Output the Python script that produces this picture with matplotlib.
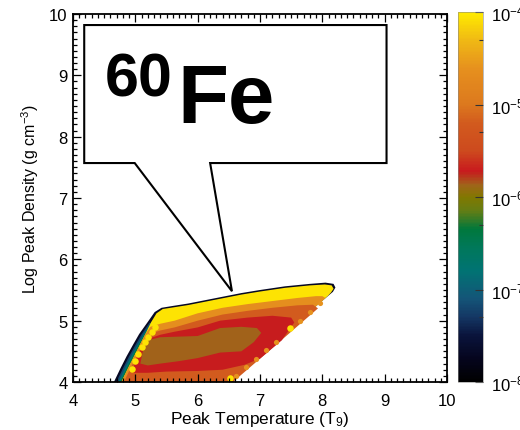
import numpy as np
import matplotlib
matplotlib.use("Agg")
import matplotlib.pyplot as plt
from matplotlib.colors import LinearSegmentedColormap, LogNorm
from matplotlib.cm import ScalarMappable
from matplotlib.ticker import FixedLocator, MultipleLocator

plt.rcParams["font.family"] = ["Liberation Sans", "DejaVu Sans"]
plt.rcParams["mathtext.fontset"] = "custom"
plt.rcParams["mathtext.rm"] = "Liberation Sans"
plt.rcParams["mathtext.it"] = "Liberation Sans:italic"
plt.rcParams["mathtext.bf"] = "Liberation Sans:bold"

# ---- colour scale: log10 mass fraction anchors ----
cmap_levels = [-8.0, -7.75, -7.5, -7.3, -7.1, -6.8, -6.55, -6.35, -6.15, -6.0,
               -5.87, -5.72, -5.5, -5.2, -5.0, -4.6, -4.3, -4.0]
cmap_colors = ["#000000", "#05051e", "#0a143c", "#143764", "#145578", "#007373",
               "#00785a", "#00783c", "#647d14", "#827800", "#a0641a", "#c8191e",
               "#cd4a1e", "#d25a1e", "#dc781e", "#e6911e", "#f0b914", "#ffeb00"]

# ---- abundance bands (Peak T9, log peak density) with their log10 values ----
rim_level = -7.7
rim = [(4.60, 3.85), (4.67, 4.03), (4.76, 4.22), (4.86, 4.42), (4.97, 4.62), (5.06, 4.78),
       (5.20, 4.98), (5.31, 5.14), (5.42, 5.21), (5.60, 5.24), (5.85, 5.28), (6.10, 5.33),
       (6.40, 5.39), (6.70, 5.45), (7.00, 5.50), (7.40, 5.56), (7.80, 5.60), (8.05, 5.62),
       (8.18, 5.60), (8.21, 5.54), (8.17, 5.47), (8.10, 5.41), (7.70, 5.06), (7.30, 4.72),
       (6.90, 4.37), (6.50, 4.03), (6.30, 3.85)]

blue_level = -7.2
blue = [(4.64, 3.85), (4.71, 4.03), (4.80, 4.22), (4.90, 4.42), (5.01, 4.62), (5.10, 4.78),
        (5.23, 4.97), (5.40, 4.80), (5.40, 3.85)]

teal_level = -6.8
teal = [(4.67, 3.85), (4.74, 4.03), (4.83, 4.22), (4.93, 4.42), (5.04, 4.62), (5.13, 4.78),
        (5.25, 4.96), (5.40, 4.80), (5.40, 3.85)]

green_level = -6.35
green = [(4.70, 3.85), (4.77, 4.03), (4.86, 4.22), (4.96, 4.42), (5.06, 4.62), (5.15, 4.78),
         (5.26, 4.96), (5.40, 4.80), (5.40, 3.85)]

yellow_level = -4.05
yellow = [(4.72, 3.85), (4.79, 4.03), (4.88, 4.22), (4.98, 4.42), (5.08, 4.62), (5.16, 4.78),
          (5.25, 4.97), (5.34, 5.12), (5.44, 5.19), (5.60, 5.215), (5.85, 5.255), (6.10, 5.305),
          (6.40, 5.365), (6.70, 5.425), (7.00, 5.475), (7.40, 5.535), (7.80, 5.575),
          (8.04, 5.59), (8.15, 5.575), (8.18, 5.52), (8.14, 5.46), (8.09, 5.405), (7.70, 5.06),
          (7.30, 4.72), (6.90, 4.37), (6.50, 4.03), (6.30, 3.85)]

orange_level = -4.65
orange = [(4.72, 3.85), (4.79, 4.03), (4.88, 4.22), (4.98, 4.42), (5.08, 4.62), (5.16, 4.78),
          (5.24, 4.90), (5.40, 4.95), (5.63, 5.00), (6.00, 5.12), (6.40, 5.21), (6.80, 5.27),
          (7.20, 5.32), (7.60, 5.37), (7.90, 5.40), (8.00, 5.40), (8.05, 5.37), (7.70, 5.06),
          (7.30, 4.72), (6.90, 4.37), (6.50, 4.03), (6.30, 3.85)]

dark_orange_level = -5.2
dark_orange = [(4.76, 3.85), (4.83, 4.03), (4.92, 4.22), (5.02, 4.42), (5.12, 4.62),
               (5.22, 4.78), (5.40, 4.84), (5.63, 4.89), (6.00, 5.00), (6.40, 5.10),
               (6.80, 5.16), (7.20, 5.21), (7.60, 5.25), (7.85, 5.26), (7.93, 5.20),
               (7.50, 4.82), (7.00, 4.38), (6.60, 4.03), (6.42, 3.85)]

red_level = -5.72
red = [(4.95, 4.15), (5.00, 4.35), (5.10, 4.55), (5.20, 4.70), (5.40, 4.77), (5.63, 4.82),
       (6.00, 4.89), (6.36, 5.00), (6.80, 5.05), (7.20, 5.08), (7.50, 5.05), (7.55, 4.97),
       (7.35, 4.68), (7.00, 4.38), (6.75, 4.28), (6.40, 4.20), (6.00, 4.18), (5.50, 4.17),
       (5.20, 4.15)]

brown_level = -5.87
brown = [(5.08, 4.30), (5.12, 4.50), (5.20, 4.68), (5.40, 4.73), (5.70, 4.74), (6.00, 4.75),
         (6.36, 4.88), (6.70, 4.90), (6.95, 4.88), (7.02, 4.80), (6.90, 4.65), (6.70, 4.50),
         (6.36, 4.48), (6.00, 4.39), (5.70, 4.34), (5.40, 4.30), (5.20, 4.27)]

# bright knots along the edges of the distribution
knot_T = [4.94, 4.99, 5.05, 5.10, 5.15, 5.21, 5.26, 5.31, 7.48, 6.52]
knot_rho = [4.21, 4.35, 4.46, 4.57, 4.65, 4.73, 4.81, 4.89, 4.88, 4.07]
knot_level = -4.05
edge_knot_T = [6.62, 6.78, 6.94, 7.10, 7.26, 7.64, 7.80, 7.96]
edge_knot_rho = [4.10, 4.24, 4.38, 4.52, 4.66, 5.00, 5.14, 5.28]
edge_knot_level = -4.6

# ---- call-out bubble outline ----
bubble_T = [4.18, 9.03, 9.03, 6.20, 6.55, 4.99, 4.18, 4.18]
bubble_rho = [9.82, 9.82, 7.57, 7.57, 5.48, 7.57, 7.57, 9.82]

x_ticks = [4, 5, 6, 7, 8, 9, 10]
y_ticks = [4, 5, 6, 7, 8, 9, 10]
cbar_ticks = [1e-8, 1e-7, 1e-6, 1e-5, 1e-4]
cbar_labels = [r"$10^{-8}$", r"$10^{-7}$", r"$10^{-6}$", r"$10^{-5}$", r"$10^{-4}$"]
cbar_minor = [5e-8, 5e-7, 5e-6, 5e-5]

# ---- build colour map ----
pos = [(v - cmap_levels[0]) / (cmap_levels[-1] - cmap_levels[0]) for v in cmap_levels]
cmap = LinearSegmentedColormap.from_list("abund", list(zip(pos, cmap_colors)))
norm = LogNorm(vmin=1e-8, vmax=1e-4)


def col(level):
    return cmap(norm(10.0 ** level))


fig = plt.figure(figsize=(5.20, 4.31), dpi=100)
ax = fig.add_axes([73 / 520, 48 / 431, 374 / 520, 368 / 431])
cax = fig.add_axes([458 / 520, 48 / 431, 25 / 520, 370 / 431])

bands = [(rim, rim_level), (blue, blue_level), (teal, teal_level), (green, green_level),
         (yellow, yellow_level), (orange, orange_level), (dark_orange, dark_orange_level),
         (red, red_level), (brown, brown_level)]
for poly, lev in bands:
    T, rho = zip(*poly)
    ax.fill(T, rho, color=col(lev), lw=0, zorder=1)

ax.scatter(edge_knot_T, edge_knot_rho, s=14, color=col(edge_knot_level), lw=0, zorder=1.2)
ax.scatter(knot_T, knot_rho, s=22, color=col(knot_level), lw=0, zorder=1.2)

ax.fill(bubble_T, bubble_rho, facecolor="white", edgecolor="black", lw=1.5,
        joinstyle="miter", zorder=3)
ax.text(4.51, 8.67, "60", fontsize=44, fontweight="bold",
        family=["Liberation Sans", "DejaVu Sans"], ha="left", va="baseline", zorder=4)
ax.text(5.67, 8.24, "Fe", fontsize=60, fontweight="bold",
        family=["Liberation Sans", "DejaVu Sans"], ha="left", va="baseline", zorder=4)

ax.set_xlim(4, 10)
ax.set_ylim(4, 10)
ax.set_xticks(x_ticks)
ax.set_yticks(y_ticks)
ax.xaxis.set_minor_locator(MultipleLocator(0.1))
ax.yaxis.set_minor_locator(MultipleLocator(0.1))
ax.tick_params(which="both", direction="in", top=True, right=True, width=0.9,
               labelsize=12, color="black")
ax.tick_params(which="major", length=6)
ax.tick_params(which="minor", length=3)
ax.tick_params(axis="x", which="major", pad=8)
ax.tick_params(axis="y", which="major", pad=4)
for s in ax.spines.values():
    s.set_linewidth(1.3)
ax.set_xlabel("Peak Temperature (T$_9$)", fontsize=12.5, labelpad=1)
ax.set_ylabel("Log Peak Density (g cm$^{-3}$)", fontsize=11.5, labelpad=6)

sm = ScalarMappable(norm=norm, cmap=cmap)
cb = fig.colorbar(sm, cax=cax)
cb.outline.set_linewidth(0.4)
cb.outline.set_edgecolor("#888888")
cax.yaxis.set_major_locator(FixedLocator(cbar_ticks))
cax.set_yticklabels(cbar_labels)
cax.yaxis.set_minor_locator(FixedLocator(cbar_minor))
cax.tick_params(which="both", direction="in", right=True, left=False, color="#333333",
                width=0.8, labelsize=12)
cax.tick_params(which="major", length=6, pad=6)
cax.tick_params(which="minor", length=3)

fig.savefig("out.png", dpi=100)
